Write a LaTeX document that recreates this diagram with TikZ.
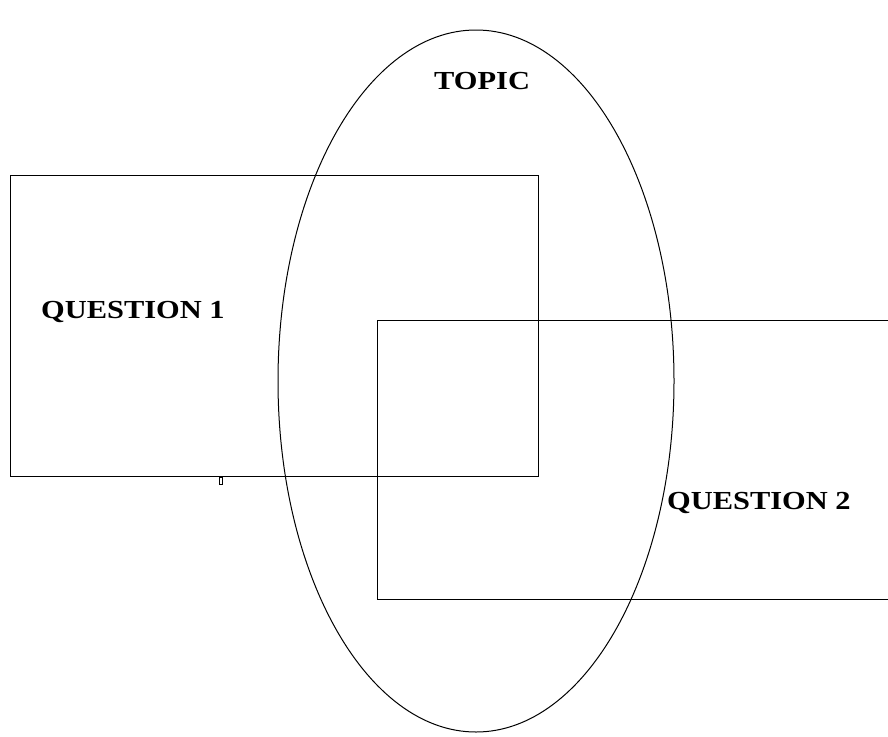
\documentclass[tikz,border=0pt]{standalone}
\usepackage{fontspec}
\setmainfont{Liberation Serif}
\begin{document}
\begin{tikzpicture}[x=1pt,y=-1pt,
  shape line/.style={draw=black, line width=1pt},
  lbl/.style={inner sep=0pt, anchor=base west, font=\fontsize{26}{28}\selectfont\bfseries, xscale=1.17}]
\useasboundingbox (0,0) rectangle (888,736);
\draw[shape line] (10,175) rectangle (538,476);
\draw[shape line] (888,320) -- (377,320) -- (377,599) -- (888,599);
\draw[shape line] (476,381) ellipse [x radius=198, y radius=351];
\draw[line width=1pt] (219.5,477) rectangle (222.5,484);
\node[lbl] (topic) at (434,89) {TOPIC};
\node[lbl] (q1) at (41,318) {QUESTION 1};
\node[lbl] (q2) at (667,509) {QUESTION 2};
\end{tikzpicture}
\end{document}
